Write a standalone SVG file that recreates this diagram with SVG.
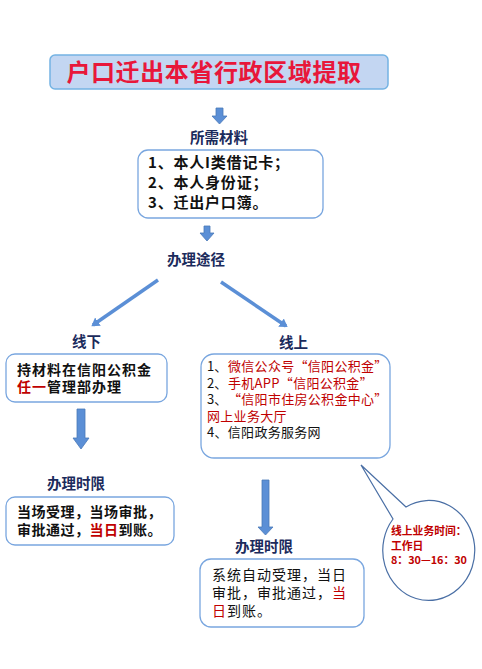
<svg xmlns="http://www.w3.org/2000/svg" width="482" height="669" viewBox="0 0 482 669">
<style>
.lbl{font-family:"Noto Sans CJK SC","Noto Sans",sans-serif;font-size:14.5px;font-weight:bold;fill:#1b2b5c}
.box{fill:#fff;stroke:#79a6df;stroke-width:1.3}
.t{font-family:"Noto Sans CJK SC","Noto Sans",sans-serif;font-size:14px;fill:#111}
.o{font-family:"Noto Sans CJK SC","Noto Sans",sans-serif;font-size:13px;fill:#111}
.tb{font-family:"Noto Sans CJK SC","Noto Sans",sans-serif;font-size:15px;font-weight:bold;fill:#111;letter-spacing:0.8px}
.c{font-family:"Noto Sans CJK SC","Noto Sans",sans-serif;font-size:10.8px;font-weight:bold;fill:#c00000}
.r{fill:#c00000}
.arr{fill:#5b8fd6;stroke:#4a78b8;stroke-width:0.8}
.dl{stroke:#5b8fd6;stroke-width:3.5;fill:none}
</style>
<defs>
<marker id="ah" markerUnits="userSpaceOnUse" markerWidth="12" markerHeight="12" refX="6" refY="6" orient="auto">
<path d="M0,1 L8,6 L0,11 Z" fill="#5b8fd6"/>
</marker>
</defs>
<rect width="482" height="669" fill="#fff"/>

<g id="title">
<rect x="50" y="55" width="338" height="34" rx="5" fill="#c3d6f2" stroke="#74b3e3" stroke-width="1.5"/>
<text x="214" y="81" text-anchor="middle" font-family="Noto Sans CJK SC,sans-serif" font-size="24" font-weight="bold" fill="#e8173a" letter-spacing="0.6">户口迁出本省行政区域提取</text>
</g>

<g id="connectors">
<polygon class="arr" points="216,108 223,108 223,116 227,116 219.5,124 212,116 216,116"/>
<polygon class="arr" points="204,226 210,226 210,233 214,233 207,241 200,233 204,233"/>
<line class="dl" x1="158" y1="280" x2="93" y2="325" marker-end="url(#ah)"/>
<line class="dl" x1="221" y1="282" x2="286" y2="326" marker-end="url(#ah)"/>
<polygon class="arr" points="77,409 85,409 85,438 89,438 81,449 73,438 77,438"/>
<polygon class="arr" points="262,480 269,480 269,527 273,527 265.5,535 258,527 262,527"/>
</g>

<g id="materials-label"><text class="lbl" x="190" y="143">所需材料</text></g>
<g id="materials">
<rect class="box" x="138" y="150" width="185" height="68" rx="10" stroke="#8cc0ea"/>
<text class="tb" x="148" y="168">1、本人I类借记卡；</text>
<text class="tb" x="148" y="188">2、本人身份证；</text>
<text class="tb" x="148" y="208">3、迁出户口簿。</text>
</g>

<g id="route-label"><text class="lbl" x="167" y="265">办理途径</text></g>

<g id="offline-label"><text class="lbl" x="72" y="347">线下</text></g>
<g id="online-label"><text class="lbl" x="279" y="348">线上</text></g>

<g id="offline">
<rect class="box" x="6" y="354" width="161" height="48" rx="9"/>
<text class="t" x="17" y="375" letter-spacing="1" font-weight="bold">持材料在信阳公积金</text>
<text class="t r" x="17" y="392" letter-spacing="1" font-weight="bold">任一</text>
<text class="t" x="47" y="392" letter-spacing="1" font-weight="bold">管理部办理</text>
</g>

<g id="online">
<rect class="box" x="201" y="354" width="189" height="104" rx="13"/>
<text class="o" x="207" y="371">1、</text>
<text class="o r" x="228" y="371" letter-spacing="0.3">微信公众号“信阳公积金”</text>
<text class="o" x="207" y="387.5">2、</text>
<text class="o r" x="228" y="387.5" letter-spacing="0.3">手机APP“信阳公积金”</text>
<text class="o" x="207" y="404">3、</text>
<text class="o r" x="228" y="404" letter-spacing="0.3">“信阳市住房公积金中心”</text>
<text class="o r" x="207" y="420.5" letter-spacing="0.3">网上业务大厅</text>
<text class="o" x="207" y="437" letter-spacing="0.3">4、信阳政务服务网</text>
</g>

<g id="offline-time-label"><text class="lbl" x="47" y="489">办理时限</text></g>
<g id="offline-time">
<rect class="box" x="6" y="497" width="168" height="48" rx="9"/>
<text class="t" x="17" y="517" letter-spacing="0.5" font-weight="bold">当场受理，当场审批，</text>
<text class="t" x="17" y="535" letter-spacing="0.5" font-weight="bold">审批通过，</text>
<text class="t r" x="89.5" y="535" letter-spacing="0.5" font-weight="bold">当日</text>
<text class="t" x="118.5" y="535" letter-spacing="0.5" font-weight="bold">到账。</text>
</g>

<g id="online-time-label"><text class="lbl" x="235" y="552">办理时限</text></g>
<g id="online-time">
<rect class="box" x="200" y="559" width="164" height="68" rx="11"/>
<text class="t" x="212" y="580" letter-spacing="1">系统自动受理，当日</text>
<text class="t" x="212" y="598" letter-spacing="1">审批，审批通过，</text>
<text class="t r" x="332" y="598">当</text>
<text class="t r" x="212" y="616">日</text>
<text class="t" x="227" y="616" letter-spacing="1">到账。</text>
</g>

<g id="callout">
<path d="M406,507 L361,465 L393,519 A46,50 0 1 0 406,507 Z" fill="#fff" stroke="#4a6fa5" stroke-width="1.2"/>
<text class="c" x="391" y="535">线上业务时间：</text>
<text class="c" x="391" y="550">工作日</text>
<text class="c" x="391" y="564">8：30—16：30</text>
</g>
</svg>
